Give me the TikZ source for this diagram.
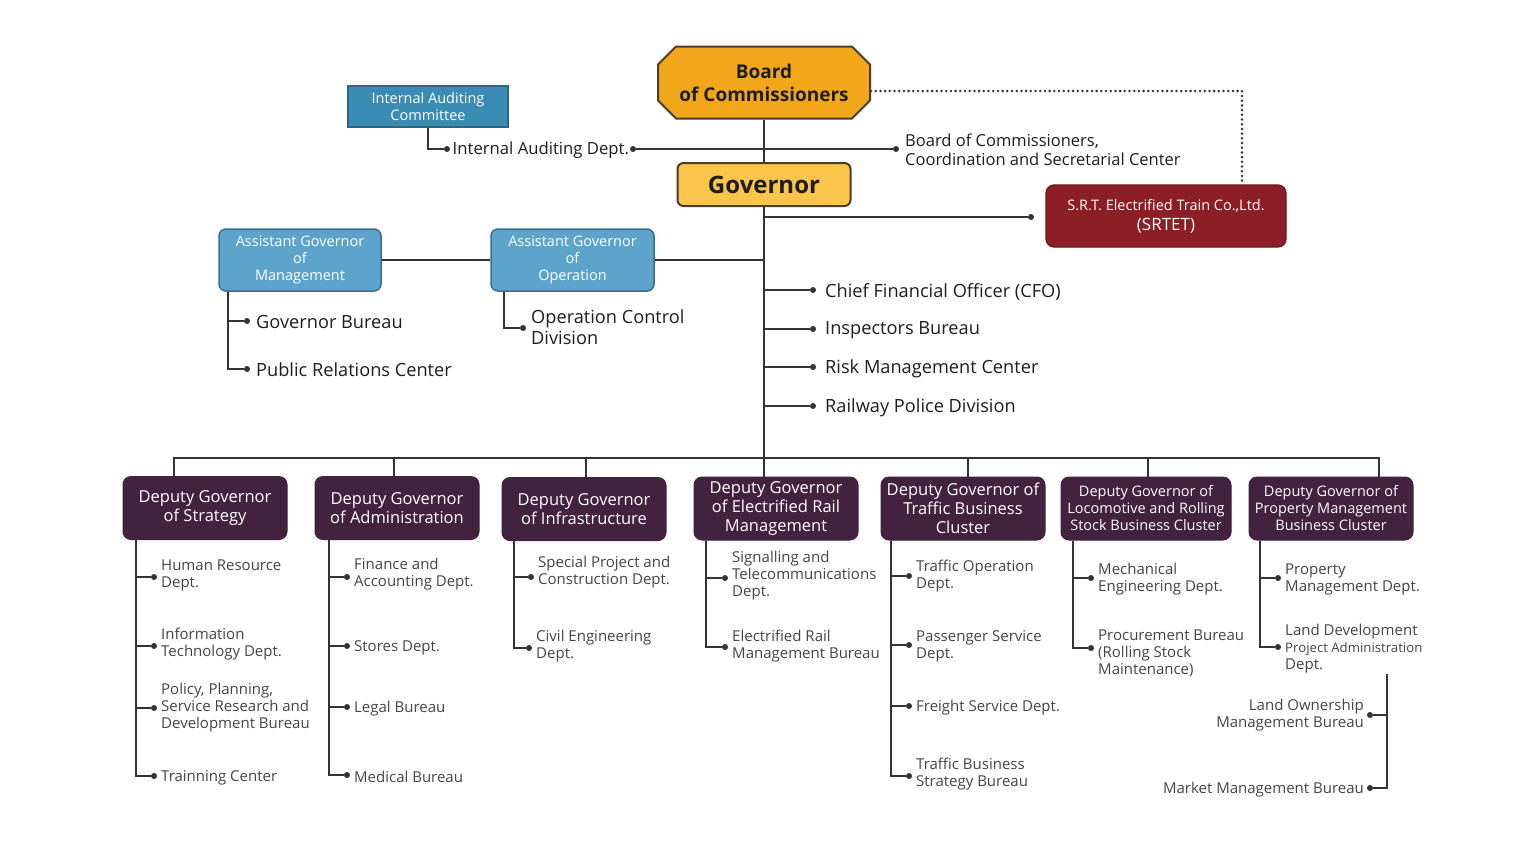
\documentclass[tikz,border=0pt]{standalone}
\usepackage{fontspec}
\setmainfont{Open Sans}
\usetikzlibrary{shapes.misc}
\definecolor{linec}{HTML}{333333}
\definecolor{txtdark}{HTML}{1E1E1E}
\definecolor{txtgray}{HTML}{454545}
\definecolor{boardc}{HTML}{F2A71B}
\definecolor{govc}{HTML}{FBC44B}
\definecolor{goldb}{HTML}{4A3D2E}
\definecolor{iacc}{HTML}{3A8CB5}
\definecolor{iacb}{HTML}{2D6482}
\definecolor{asstc}{HTML}{5DA4CC}
\definecolor{asstb}{HTML}{3A6F8C}
\definecolor{srtc}{HTML}{8C1E25}
\definecolor{srtb}{HTML}{6E151B}
\definecolor{depc}{HTML}{43223F}
\newcommand\myfs[2]{\fontsize{#1}{#2}\selectfont}
\begin{document}
\begin{tikzpicture}[x=1pt,y=-1pt,
 conn/.style={draw=linec, line width=2pt},
 dotn/.style={circle, fill=linec, inner sep=0pt, minimum size=6pt},
 gtext/.style={anchor=west, inner sep=0pt, align=left, text=txtdark, font=\myfs{18.2}{21}},
 ctext/.style={anchor=west, inner sep=0pt, align=left, text=txtgray, font=\myfs{15}{17}},
 rtext/.style={anchor=east, inner sep=0pt, align=right, text=txtgray, font=\myfs{15}{17}},
 depbox/.style={rounded corners=8pt, fill=depc, draw=depc, line width=1pt, text=white, align=center, minimum width=164pt, minimum height=63pt, inner sep=0pt, font=\myfs{16.5}{19}},
 asstbox/.style={rounded corners=7pt, fill=asstc, draw=asstb, line width=1.5pt, text=white, align=center, minimum width=162pt, minimum height=62pt, inner sep=0pt, font=\myfs{14.5}{17}},
]
\useasboundingbox[fill=white] (0,0) rectangle (1536,852);

% top boxes
\node[chamfered rectangle, chamfered rectangle xsep=9pt, chamfered rectangle ysep=9pt, fill=boardc, draw=goldb, line width=2pt, minimum width=212pt, minimum height=72pt, inner sep=0pt, align=center, font=\bfseries\myfs{19}{23}, text=txtdark] (board) at (764,82.5) {Board\\of Commissioners};
\node[rounded corners=6pt, fill=govc, draw=goldb, line width=2pt, minimum width=173pt, minimum height=43pt, inner sep=0pt, font=\bfseries\myfs{24}{28}, text=txtdark] (gov) at (764,184.5) {Governor};
\node[fill=iacc, draw=iacb, line width=1.2pt, minimum width=160pt, minimum height=41pt, inner sep=0pt, align=center, text=white, font=\myfs{14.5}{17}] (iac) at (428,106.5) {Internal Auditing\\Committee};
\node[rounded corners=8pt, fill=srtc, draw=srtb, line width=1.2pt, minimum width=240pt, minimum height=62pt, inner sep=0pt, align=center, text=white, font=\myfs{14.5}{20}] (srt) at (1166,216) {S.R.T. Electrified Train Co.,Ltd.\\{\myfs{17}{20}(SRTET)}};

\node[asstbox] (agm) at (300,260) {Assistant Governor\\of\\Management};
\node[asstbox, minimum width=163pt] (ago) at (572.5,260) {Assistant Governor\\of\\Operation};

% deputies
\node[depbox] (strat) at (205,508) {Deputy Governor\\of Strategy};
\node[depbox] (adm) at (397,508) {Deputy Governor\\of Administration};
\node[depbox] (inf) at (584,509) {Deputy Governor\\of Infrastructure};
\node[depbox] (ele) at (776,508.5) {Deputy Governor\\of Electrified Rail\\Management};
\node[depbox] (trf) at (963,508.5) {Deputy Governor of\\Traffic Business\\Cluster};
\node[depbox, minimum width=170pt, font=\myfs{14.5}{17}] (loc) at (1146,508.5) {Deputy Governor of\\Locomotive and Rolling\\Stock Business Cluster};
\node[depbox, font=\myfs{14.5}{17}] (prp) at (1331,508.5) {Deputy Governor of\\Property Management\\Business Cluster};

% main spine
\draw[conn] (board.south) -- (gov.north);
\draw[conn] (gov.south) -- (ele.north -| gov.south);

% bus
\coordinate (bus) at (764,458);
\coordinate (dS) at ([xshift=-31pt]strat.north);
\coordinate (dP) at ([xshift=48pt]prp.north);
\coordinate (dA) at ([xshift=-3pt]adm.north);
\coordinate (dI) at ([xshift=2pt]inf.north);
\coordinate (dT) at ([xshift=5pt]trf.north);
\coordinate (dL) at ([xshift=2pt]loc.north);
\draw[conn] (dS) |- (bus) -| (dP);
\foreach \c in {dA,dI,dT,dL} \draw[conn] (\c) -- (\c |- bus);

% internal auditing
\node[dotn] (iad0) at (447,149) {};
\node[gtext, font=\myfs{16.7}{20}] (iadt) at (452.5,150) {Internal Auditing Dept.};
\node[dotn] (iad1) at (633,149) {};
\node[dotn] (bcs) at (896,149) {};
\node[gtext, font=\myfs{16.5}{19}] (bcst) at (905,149.5) {Board of Commissioners,\\Coordination and Secretarial Center};
\draw[conn] (iac.south) |- (iad0);
\draw[conn] (iad1) -- (bcs);

% SRTET
\node[dotn] (srd) at (1031,217) {};
\draw[conn] (srd -| gov.south) -- (srd);
\coordinate (dotc) at ([xshift=76pt]srt.north);
\draw[linec, line width=2.8pt, line cap=round, dash pattern=on 0pt off 4.7pt] ([yshift=-8.5pt]board.east) -| (dotc);

% assistants
\draw[conn] (agm.east) -- (ago.west);
\draw[conn] (ago.east) -- (ago.east -| gov.south);
\coordinate (mS) at ([xshift=10pt]agm.south west);
\coordinate (oS) at ([xshift=14pt]ago.south west);
\node[dotn] (gb) at (247,321) {};
\node[gtext] (gbt) at (256,322) {Governor Bureau};
\node[dotn] (prc) at (247,369) {};
\node[gtext] (prct) at (256,370) {Public Relations Center};
\draw[conn] (mS) |- (gb);
\draw[conn] (mS) |- (prc);
\node[dotn] (ocd) at (523,328) {};
\node[gtext] (ocdt) at (531,327.5) {Operation Control\\Division};
\draw[conn] (oS) |- (ocd);

% governor staff
\foreach \nm/\yy/\tx in {cfo/290/{Chief Financial Officer (CFO)}, ib/329/{Inspectors Bureau}, rmc/367/{Risk Management Center}, rpd/406/{Railway Police Division}}{
  \node[dotn] (\nm) at (813,\yy) {};
  \node[gtext] (\nm-t) at (825,\yy+1.5) {\tx};
  \draw[conn] (\nm -| gov.south) -- (\nm);
}

% deputy spines
\coordinate (sS) at ([xshift=13pt]strat.south west);
\coordinate (sA) at ([xshift=14pt]adm.south west);
\coordinate (sI) at ([xshift=12pt]inf.south west);
\coordinate (sE) at ([xshift=12pt]ele.south west);
\coordinate (sT) at ([xshift=10pt]trf.south west);
\coordinate (sL) at ([xshift=12pt]loc.south west);
\coordinate (sP) at ([xshift=11pt]prp.south west);

\foreach \sp/\nm/\xx/\yy/\ty/\tx in {
 sS/c1/154/577/573.5/{Human Resource\\Dept.},
 sS/c2/154/646/642.5/{Information\\Technology Dept.},
 sS/c3/154/708/706/{Policy, Planning,\\Service Research and\\Development Bureau},
 sS/c4/154/776/776/{Trainning Center},
 sA/c5/347/577/572.5/{Finance and\\Accounting Dept.},
 sA/c6/347/646/646/{Stores Dept.},
 sA/c7/347/707/707/{Legal Bureau},
 sA/c8/347/775/775/{Medical Bureau},
 sI/c9/531/577/570.5/{Special Project and\\Construction Dept.},
 sI/c10/529/648/644.5/{Civil Engineering\\Dept.},
 sE/c11/725/578/574/{Signalling and\\Telecommunications\\Dept.},
 sE/c12/725/647/644.5/{Electrified Rail\\Management Bureau},
 sT/c13/909/576/574.5/{Traffic Operation\\Dept.},
 sT/c14/909/645/644.5/{Passenger Service\\Dept.},
 sT/c15/909/706/706/{Freight Service Dept.},
 sT/c16/909/776/772.5/{Traffic Business\\Strategy Bureau},
 sL/c17/1091/578/577.5/{Mechanical\\Engineering Dept.},
 sL/c18/1091/648/652/{Procurement Bureau\\(Rolling Stock\\Maintenance)},
 sP/c19/1278/578/577.5/{Property\\Management Dept.},
 sP/c20/1278/647/647/{Land Development\\{\myfs{13.2}{17}Project Administration}\\Dept.}}{
  \node[dotn] (\nm) at (\xx,\yy) {};
  \node[ctext] (\nm-t) at (\xx+7,\ty+1.5) {\tx};
  \draw[conn] (\sp) |- (\nm);
}

% right bracket
\coordinate (pbr) at (1387,674);
\node[dotn] (lo) at (1370,715) {};
\node[rtext] (lot) at (1364,715) {Land Ownership\\Management Bureau};
\node[dotn] (mm) at (1370,788) {};
\node[rtext] (mmt) at (1364,789.5) {Market Management Bureau};
\draw[conn] (pbr) |- (lo);
\draw[conn] (pbr) |- (mm);
\end{tikzpicture}
\end{document}
